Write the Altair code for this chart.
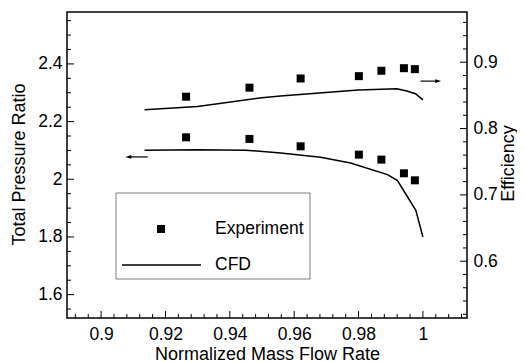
import altair as alt
import pandas as pd

# ---- data ----
exp_mass = [0.9264, 0.9461, 0.9620, 0.9801, 0.9871, 0.9941, 0.9975]
exp_pr = [2.1455, 2.140, 2.1143, 2.0855, 2.0682, 2.0207, 1.9964]
exp_eff = [0.848, 0.8616, 0.8755, 0.879, 0.8871, 0.891, 0.8895]

cfd_pr_mass = [0.9135, 0.930, 0.945, 0.9558, 0.9682, 0.9775, 0.989, 0.9921, 0.9978, 1.0]
cfd_pr = [2.1004, 2.1028, 2.101, 2.0907, 2.0761, 2.0567, 2.0162, 1.9954, 1.8924, 1.800]

cfd_eff_mass = [0.9135, 0.930, 0.950, 0.9557, 0.9799, 0.9919, 0.995, 0.9977, 1.0]
cfd_eff = [0.8285, 0.8332, 0.8465, 0.8489, 0.858, 0.860, 0.8565, 0.8526, 0.8432]

x_major = [0.9, 0.92, 0.94, 0.96, 0.98, 1.0]
x_minor = [0.892, 0.896, 0.904, 0.908, 0.912, 0.916, 0.924, 0.928, 0.932, 0.936,
           0.944, 0.948, 0.952, 0.956, 0.964, 0.968, 0.972, 0.976, 0.984, 0.988,
           0.992, 0.996, 1.004, 1.008, 1.012]
yl_major = [1.6, 1.8, 2.0, 2.2, 2.4]
yl_minor = [1.55, 1.65, 1.7, 1.75, 1.85, 1.9, 1.95, 2.05, 2.1, 2.15, 2.25, 2.3, 2.35,
            2.45, 2.5, 2.55]
yr_major = [0.6, 0.7, 0.8, 0.9]
yr_minor = [0.52, 0.54, 0.56, 0.58, 0.62, 0.64, 0.66, 0.68, 0.72, 0.74, 0.76, 0.78,
            0.82, 0.84, 0.86, 0.88, 0.92, 0.94, 0.96]

# arrow annotations (data coords)
arrow_left = {"x": 0.90848, "x2": 0.9145, "y": 2.0775}
arrow_right = {"x": 0.99925, "x2": 1.00475, "y": 0.8715}

X_DOM = [0.8894, 1.0137]
YL_DOM = [1.519, 2.580]
YR_DOM = [0.5144, 0.9757]
W, H = 400, 306
FONT = "Liberation Sans"

XS = alt.Scale(domain=X_DOM, nice=False, zero=False)
YLS = alt.Scale(domain=YL_DOM, nice=False, zero=False)
YRS = alt.Scale(domain=YR_DOM, nice=False, zero=False)

X_AXIS = alt.Axis(values=x_major, format="~g", title="Normalized Mass Flow Rate",
                  orient="bottom", ticks=False, tickSize=0, domain=False, grid=False,
                  labelPadding=7, titleBaseline="alphabetic", titleY=41)
YL_AXIS = alt.Axis(values=yl_major, format="~g", title="Total Pressure Ratio", orient="left",
                   ticks=False, tickSize=0, domain=False, grid=False, labelPadding=5,
                   titleAngle=270, titleAlign="center", titleBaseline="middle",
                   titleX=-48, titleY=152)
YR_AXIS = alt.Axis(values=yr_major, format="~g", title="Efficiency", orient="right",
                   ticks=False, tickSize=0, domain=False, grid=False, labelPadding=6,
                   titleAngle=270, titleAlign="center", titleBaseline="middle",
                   titleX=41, titleY=151)


def X(f):
    return alt.X(f, scale=XS, axis=X_AXIS)


def YL(f):
    return alt.Y(f, scale=YLS, axis=YL_AXIS)


def YR(f):
    return alt.Y(f, scale=YRS, axis=YR_AXIS)


df_exp = pd.DataFrame({"m": exp_mass, "pr": exp_pr, "eff": exp_eff})
df_cfd_pr = pd.DataFrame({"m": cfd_pr_mass, "pr": cfd_pr})
df_cfd_eff = pd.DataFrame({"m": cfd_eff_mass, "eff": cfd_eff})
df_al = pd.DataFrame([arrow_left])
df_ar = pd.DataFrame([arrow_right])

# ---- left (pressure ratio) group ----
pr_points = alt.Chart(df_exp).mark_square(size=64, color="black", opacity=1).encode(
    x=X("m:Q"), y=YL("pr:Q"))
pr_line = alt.Chart(df_cfd_pr).mark_line(color="black", strokeWidth=1.5).encode(
    x=X("m:Q"), y=YL("pr:Q"))
al_rule = alt.Chart(df_al).mark_rule(color="black", strokeWidth=1.2).encode(
    x=X("x:Q"), x2="x2:Q", y=YL("y:Q"))
al_head = alt.Chart(df_al).mark_point(shape="M-1,0L1,-0.6L1,0.6Z", size=36, filled=True,
                                      color="black", opacity=1).encode(
    x=X("x:Q"), y=YL("y:Q"))
yl_tmaj = alt.Chart(pd.DataFrame({"v": yl_major})).mark_rule(color="black", strokeWidth=1).encode(
    y=YL("v:Q"), x=alt.value(0), x2=alt.value(7))
yl_tmin = alt.Chart(pd.DataFrame({"v": yl_minor})).mark_rule(color="black", strokeWidth=1).encode(
    y=YL("v:Q"), x=alt.value(0), x2=alt.value(4))
x_tmaj = alt.Chart(pd.DataFrame({"v": x_major})).mark_rule(color="black", strokeWidth=1).encode(
    x=X("v:Q"), y=alt.value(H - 7), y2=alt.value(H))
x_tmin = alt.Chart(pd.DataFrame({"v": x_minor})).mark_rule(color="black", strokeWidth=1).encode(
    x=X("v:Q"), y=alt.value(H - 4), y2=alt.value(H))
left = alt.layer(pr_line, pr_points, al_rule, al_head, yl_tmaj, yl_tmin, x_tmaj, x_tmin)

# ---- right (efficiency) group ----
eff_points = alt.Chart(df_exp).mark_square(size=64, color="black", opacity=1).encode(
    x=X("m:Q"), y=YR("eff:Q"))
eff_line = alt.Chart(df_cfd_eff).mark_line(color="black", strokeWidth=1.5).encode(
    x=X("m:Q"), y=YR("eff:Q"))
ar_rule = alt.Chart(df_ar).mark_rule(color="black", strokeWidth=1.2).encode(
    x=X("x:Q"), x2="x2:Q", y=YR("y:Q"))
ar_head = alt.Chart(df_ar).mark_point(shape="M1,0L-1,-0.6L-1,0.6Z", size=36, filled=True,
                                      color="black", opacity=1).encode(
    x=X("x2:Q"), y=YR("y:Q"))
yr_tmaj = alt.Chart(pd.DataFrame({"v": yr_major})).mark_rule(color="black", strokeWidth=1).encode(
    y=YR("v:Q"), x=alt.value(W - 7), x2=alt.value(W))
yr_tmin = alt.Chart(pd.DataFrame({"v": yr_minor})).mark_rule(color="black", strokeWidth=1).encode(
    y=YR("v:Q"), x=alt.value(W - 4), x2=alt.value(W))
right = alt.layer(eff_line, eff_points, ar_rule, ar_head, yr_tmaj, yr_tmin)

# ---- legend box (decoration, pixel placed) ----
one = alt.Data(values=[{"a": 1}])
leg_box = alt.Chart(one).mark_rect(fill="white", stroke="#7f7f7f", strokeWidth=1).encode(
    x=alt.value(49), x2=alt.value(243), y=alt.value(181), y2=alt.value(267))
leg_sq = alt.Chart(one).mark_square(size=64, color="black", opacity=1).encode(
    x=alt.value(94), y=alt.value(217))
leg_ln = alt.Chart(one).mark_rule(color="black", strokeWidth=1.5).encode(
    x=alt.value(55), x2=alt.value(134), y=alt.value(253))
leg_t1 = alt.Chart(one).mark_text(text="Experiment", align="left", baseline="middle",
                                  font=FONT, fontSize=17.5, color="black").encode(
    x=alt.value(148), y=alt.value(217))
leg_t2 = alt.Chart(one).mark_text(text="CFD", align="left", baseline="middle",
                                  font=FONT, fontSize=17.5, color="black").encode(
    x=alt.value(148), y=alt.value(253))
legend = alt.layer(leg_box, leg_sq, leg_ln, leg_t1, leg_t2)

chart = alt.layer(left, right, legend).resolve_scale(y="independent").properties(
    width=W, height=H,
    autosize=alt.AutoSizeParams(type="none"),
    padding={"left": 59, "top": 4, "right": 50, "bottom": 44},
    background="white",
).configure_axis(
    labelFont=FONT, titleFont=FONT, labelFontSize=17.5, titleFontSize=18,
    titleFontWeight="normal", labelColor="black", titleColor="black",
).configure_view(stroke="black", strokeWidth=1.5)

chart.save("out.html", embed_options={"renderer": "svg", "actions": False})
